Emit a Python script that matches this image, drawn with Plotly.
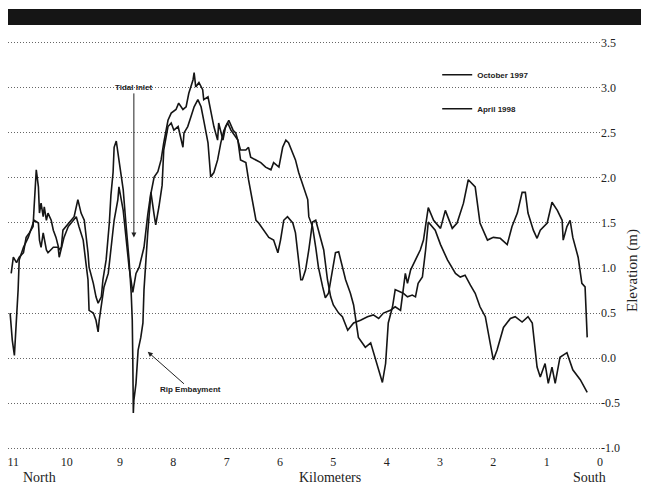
import plotly.graph_objects as go

# ---- October 1997 profile (km from south end, elevation m) ----
km_oct = [11.06, 11.02, 10.98, 10.94, 10.91, 10.89, 10.81, 10.72, 10.61, 10.53, 10.51, 10.48, 10.44, 10.38, 10.35,
          10.25, 10.16, 10.14, 10.10, 10.05, 9.97, 9.88, 9.82, 9.77, 9.69, 9.64, 9.60, 9.58, 9.50, 9.45, 9.41, 9.39,
          9.35, 9.30, 9.22, 9.17, 9.11, 9.04, 9.02, 8.94, 8.89, 8.83, 8.76, 8.70, 8.64, 8.55, 8.48, 8.42, 8.36, 8.33,
          8.27, 8.21, 8.18, 8.10, 8.04, 7.99, 7.91, 7.86, 7.82, 7.80, 7.73, 7.67, 7.61, 7.54, 7.48, 7.43, 7.35, 7.30,
          7.24, 7.17, 7.11, 7.05, 6.98, 6.92, 6.79, 6.74, 6.64, 6.59, 6.51, 6.45, 6.40, 6.30, 6.21, 6.12, 6.04, 5.99,
          5.93, 5.86, 5.76, 5.71, 5.65, 5.61, 5.58, 5.52, 5.46, 5.39, 5.33, 5.28, 5.18, 5.11, 5.05, 5.00, 4.90, 4.83,
          4.73, 4.62, 4.49, 4.36, 4.25, 4.15, 4.06, 3.93, 3.84, 3.74, 3.65, 3.61, 3.55, 3.46, 3.37, 3.31, 3.24, 3.22,
          3.12, 2.99, 2.90, 2.77, 2.68, 2.56, 2.47, 2.34, 2.25, 2.11, 2.00, 1.87, 1.74, 1.65, 1.55, 1.46, 1.40, 1.35,
          1.25, 1.18, 1.12, 0.99, 0.90, 0.80, 0.71, 0.69, 0.62, 0.56, 0.51, 0.41, 0.34, 0.28, 0.24]
elev_oct = [0.50, 0.20, 0.03, 0.42, 0.76, 1.09, 1.23, 1.34, 1.53, 1.50, 1.31, 1.23, 1.39, 1.20, 1.17,
            1.23, 1.23, 1.12, 1.23, 1.34, 1.46, 1.53, 1.57, 1.46, 1.31, 1.06, 0.87, 0.53, 0.50, 0.42, 0.29, 0.42,
            0.61, 0.79, 0.94, 1.20, 1.53, 1.76, 1.90, 1.64, 1.34, 1.01, 0.73, 0.94, 1.01, 1.23, 1.59, 1.84, 1.59, 1.48,
            1.68, 1.92, 2.31, 2.57, 2.61, 2.53, 2.57, 2.42, 2.34, 2.50, 2.57, 2.68, 2.79, 2.87, 2.79, 2.64, 2.39, 2.01,
            2.06, 2.20, 2.39, 2.53, 2.61, 2.53, 2.42, 2.20, 2.17, 1.98, 1.72, 1.53, 1.50, 1.42, 1.34, 1.31, 1.17, 1.31,
            1.53, 1.57, 1.50, 1.39, 1.09, 0.87, 0.87, 0.98, 1.20, 1.51, 1.53, 1.42, 1.20, 0.87, 0.68, 0.59, 0.50, 0.46,
            0.31, 0.39, 0.42, 0.46, 0.48, 0.44, 0.50, 0.53, 0.57, 0.53, 0.94, 0.83, 0.98, 1.09, 1.20, 1.31, 1.64, 1.67,
            1.53, 1.44, 1.64, 1.44, 1.50, 1.72, 1.98, 1.90, 1.50, 1.31, 1.34, 1.33, 1.26, 1.46, 1.61, 1.84, 1.84, 1.61,
            1.42, 1.33, 1.42, 1.50, 1.73, 1.64, 1.53, 1.31, 1.46, 1.53, 1.34, 1.12, 0.83, 0.79, 0.23]

# ---- April 1998 profile ----
km_apr = [11.04, 11.00, 10.94, 10.89, 10.81, 10.76, 10.70, 10.63, 10.61, 10.57, 10.53, 10.51, 10.48, 10.44, 10.42,
          10.38, 10.35, 10.29, 10.25, 10.20, 10.14, 10.10, 10.07, 10.01, 9.92, 9.86, 9.79, 9.73, 9.67, 9.64, 9.60,
          9.58, 9.50, 9.45, 9.41, 9.35, 9.32, 9.26, 9.20, 9.17, 9.13, 9.11, 9.07, 9.02, 8.94, 8.89, 8.83, 8.79, 8.77,
          8.76, 8.75, 8.74, 8.70, 8.66, 8.61, 8.57, 8.55, 8.51, 8.48, 8.42, 8.36, 8.29, 8.23, 8.18, 8.10, 8.04, 7.95,
          7.90, 7.82, 7.76, 7.71, 7.63, 7.61, 7.58, 7.52, 7.45, 7.43, 7.35, 7.30, 7.24, 7.17, 7.15, 7.07, 7.02, 6.96,
          6.88, 6.83, 6.74, 6.64, 6.59, 6.55, 6.45, 6.36, 6.27, 6.17, 6.12, 6.02, 5.95, 5.89, 5.84, 5.76, 5.71, 5.65,
          5.56, 5.48, 5.46, 5.39, 5.33, 5.28, 5.20, 5.15, 5.09, 5.01, 4.96, 4.90, 4.83, 4.77, 4.68, 4.62, 4.53, 4.40,
          4.30, 4.17, 4.08, 4.02, 3.97, 3.89, 3.84, 3.69, 3.61, 3.52, 3.46, 3.41, 3.33, 3.27, 3.24, 3.22, 3.09, 2.99,
          2.86, 2.71, 2.62, 2.53, 2.43, 2.34, 2.25, 2.15, 2.06, 2.00, 1.93, 1.81, 1.68, 1.59, 1.46, 1.35, 1.27, 1.18,
          1.12, 1.03, 0.97, 0.90, 0.84, 0.75, 0.62, 0.51, 0.37, 0.24]
elev_apr = [0.94, 1.12, 1.06, 1.12, 1.17, 1.34, 1.39, 1.46, 1.68, 2.09, 1.90, 1.61, 1.72, 1.57, 1.68,
            1.53, 1.61, 1.53, 1.42, 1.34, 1.20, 1.23, 1.42, 1.46, 1.53, 1.57, 1.76, 1.61, 1.53, 1.39, 1.17,
            1.01, 0.83, 0.68, 0.61, 0.68, 0.87, 1.09, 1.50, 1.81, 2.06, 2.34, 2.41, 2.20, 1.87, 1.50, 1.09, 0.72, 0.42,
            -0.02, -0.61, -0.47, -0.28, 0.09, 0.23, 0.39, 0.76, 1.20, 1.39, 1.83, 2.01, 2.07, 2.20, 2.39, 2.64, 2.72, 2.76,
            2.83, 2.76, 2.79, 2.94, 3.09, 3.17, 3.01, 3.06, 2.98, 2.87, 2.90, 2.76, 2.57, 2.42, 2.61, 2.42, 2.57, 2.64,
            2.53, 2.50, 2.31, 2.31, 2.34, 2.23, 2.20, 2.17, 2.12, 2.09, 2.17, 2.12, 2.34, 2.42, 2.39, 2.28, 2.20, 2.06,
            1.90, 1.76, 1.57, 1.46, 1.23, 1.01, 0.79, 0.67, 0.72, 1.01, 1.17, 1.18, 1.01, 0.87, 0.72, 0.59, 0.23, 0.12,
            0.17, -0.10, -0.27, -0.06, 0.39, 0.57, 0.76, 0.72, 0.68, 0.70, 0.68, 0.83, 0.90, 1.20, 1.39, 1.51, 1.42, 1.26,
            1.09, 0.94, 0.90, 0.92, 0.81, 0.72, 0.57, 0.46, 0.17, -0.02, 0.09, 0.34, 0.44, 0.46, 0.40, 0.46, 0.39, -0.10,
            -0.21, -0.06, -0.28, -0.10, -0.28, 0.01, 0.06, -0.13, -0.24, -0.38]

km_ticks = [11, 10, 9, 8, 7, 6, 5, 4, 3, 2, 1, 0]
elev_ticks = [3.5, 3.0, 2.5, 2.0, 1.5, 1.0, 0.5, 0.0, -0.5, -1.0]

SERIF = "Liberation Serif, Times New Roman, serif"
NARROW = "Liberation Sans Narrow, Arial Narrow, Liberation Sans, sans-serif"

fig = go.Figure()
fig.add_trace(go.Scatter(x=km_oct, y=elev_oct, mode="lines", name="<b>October 1997</b>",
                         legendgroup="a", line=dict(color="#151515", width=1.6)))
fig.add_trace(go.Scatter(x=km_apr, y=elev_apr, mode="lines", name="<b>April 1998</b>",
                         legendgroup="b", line=dict(color="#151515", width=1.6)))

fig.update_layout(
    width=641, height=479,
    margin=dict(l=0, r=49, t=33, b=37, autoexpand=False),
    paper_bgcolor="white", plot_bgcolor="white",
    showlegend=True,
    legend=dict(x=0.725, y=0.953, xanchor="left", yanchor="top", bgcolor="rgba(0,0,0,0)",
                font=dict(family=NARROW, size=8, color="#222"), tracegroupgap=15,
                itemwidth=30),
    xaxis=dict(range=[11.1, 0], tickvals=km_ticks, ticktext=[str(k) for k in km_ticks],
               showgrid=False, zeroline=False, showline=False, ticks="", ticklabelstandoff=3,
               ticklabeloverflow="allow",
               tickfont=dict(family=SERIF, size=12, color="#222")),
    yaxis=dict(range=[-1.02, 3.52], side="right", tickvals=elev_ticks,
               ticktext=[f"{v:.1f}" for v in elev_ticks],
               showgrid=True, gridcolor="#666", griddash="1px,2px", gridwidth=1,
               zeroline=False, showline=False, ticks="",
               tickfont=dict(family=SERIF, size=12, color="#222")),
    shapes=[dict(type="rect", xref="paper", yref="paper", x0=-0.0034, x1=1.09, y0=1.039, y1=1.078,
                 fillcolor="#151515", line=dict(width=0))],
    annotations=[
        dict(x=8.74, y=1.34, xref="x", yref="y", text="<b>Tidal Inlet</b>", showarrow=True,
             ax=0, ay=-150, arrowhead=2, arrowsize=1, arrowwidth=1, arrowcolor="#222",
             font=dict(family=NARROW, size=8, color="#222")),
        dict(x=8.48, y=0.07, xref="x", yref="y", text="<b>Rip Embayment</b>", showarrow=True,
             ax=43, ay=38, arrowhead=2, arrowsize=1, arrowwidth=1, arrowcolor="#222",
             font=dict(family=NARROW, size=8, color="#222")),
        dict(x=1.054, y=0.44, xref="paper", yref="paper", text="Elevation (m)", showarrow=False,
             textangle=-90, font=dict(family=SERIF, size=15, color="#222"),
             xanchor="center", yanchor="middle"),
        dict(x=0.054, y=-0.068, xref="paper", yref="paper", text="North", showarrow=False,
             font=dict(family=SERIF, size=14, color="#222"), xanchor="center", yanchor="middle"),
        dict(x=0.544, y=-0.068, xref="paper", yref="paper", text="Kilometers", showarrow=False,
             font=dict(family=SERIF, size=14, color="#222"), xanchor="center", yanchor="middle"),
        dict(x=0.983, y=-0.068, xref="paper", yref="paper", text="South", showarrow=False,
             font=dict(family=SERIF, size=14, color="#222"), xanchor="center", yanchor="middle"),
    ],
)

fig.write_html("out.html")
